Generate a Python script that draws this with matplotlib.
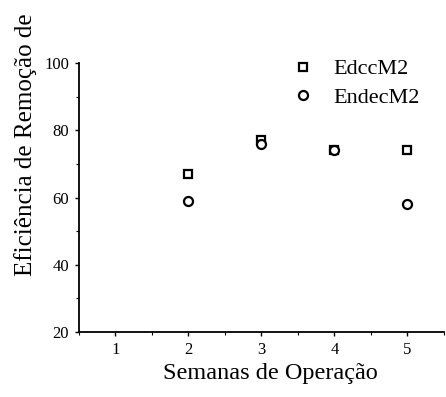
#!/usr/bin/env python3

import matplotlib
matplotlib.use('Agg')
import matplotlib.pyplot as plt
from matplotlib.ticker import MultipleLocator

plt.rcParams['font.family'] = ['Liberation Serif', 'DejaVu Serif']

semanas = [2, 3, 4, 5]
edcc_m2 = [67, 77, 74, 74]
endec_m2 = [59, 76, 74, 58]

fig = plt.figure(figsize=(4.46, 3.97), dpi=100)
ax = fig.add_axes([0.177, 0.164, 0.818, 0.677])

ax.plot(semanas, edcc_m2, linestyle='none', marker='s', markersize=6,
        markerfacecolor='white', markeredgecolor='black', markeredgewidth=1.6,
        label='EdccM2')
ax.plot(semanas, endec_m2, linestyle='none', marker='o', markersize=6.5,
        markerfacecolor='white', markeredgecolor='black', markeredgewidth=1.6,
        label='EndecM2')

ax.set_xlim(0.5, 5.5)
ax.set_ylim(20, 100)
ax.set_xticks([1, 2, 3, 4, 5])
ax.set_yticks([20, 40, 60, 80, 100])
ax.xaxis.set_minor_locator(MultipleLocator(0.5))
ax.yaxis.set_minor_locator(MultipleLocator(10))
ax.tick_params(which='major', length=3, width=1, labelsize=12, pad=4)
ax.tick_params(which='minor', length=2, width=0.8)

for side in ['top', 'right']:
    ax.spines[side].set_visible(False)
for side in ['left', 'bottom']:
    ax.spines[side].set_linewidth(1.3)

ax.set_xlabel('Semanas de Operação', fontsize=17.5)
ax.xaxis.set_label_coords(0.525, -0.115)
ax.set_ylabel('Eficiência de Remoção de', fontsize=18)
ax.yaxis.set_label_coords(-0.115, 0.695)

ax.legend(loc='upper right', bbox_to_anchor=(0.99, 1.09), frameon=False,
          fontsize=16, handletextpad=0.9, labelspacing=0.35, handlelength=1.0)

fig.savefig('out.png', dpi=100)
